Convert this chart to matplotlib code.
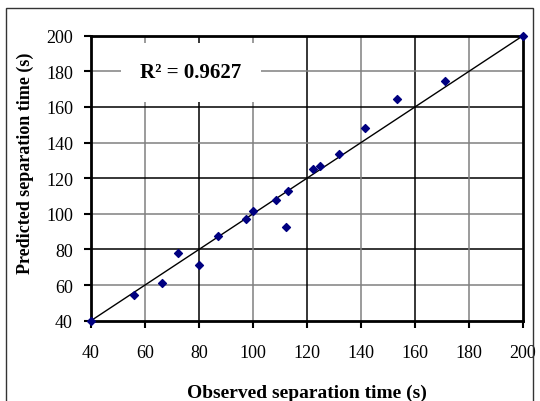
import matplotlib.pyplot as plt
import matplotlib.patches as patches

# observed vs predicted separation time (s)
observed = [40, 56.0, 66.2, 72.3, 80.0, 87.2, 97.3, 100.1, 108.4, 112.2,
            112.8, 122.3, 124.9, 131.9, 141.5, 153.3, 171.2, 200]
predicted = [40, 54.6, 61.2, 78.2, 71.3, 87.8, 97.0, 101.8, 108.0, 92.8,
             113.0, 125.3, 127.1, 133.7, 148.1, 164.6, 174.5, 200]
ticks = [40, 60, 80, 100, 120, 140, 160, 180, 200]
r2_label = 'R² = 0.9627'

plt.rcParams['font.family'] = ['Liberation Serif', 'DejaVu Serif']

fig = plt.figure(figsize=(5.4, 4.02), dpi=100)
ax = fig.add_axes([0.1685, 0.1998, 0.8, 0.7089])

# outer frame of the chart area
frame = patches.Rectangle((0.011, -0.05), 0.976, 1.028, transform=fig.transFigure,
                          fill=False, ec='#333333', lw=1.0)
fig.patches.append(frame)

# grid: every 40 looks black, in-between ones grey
for t in ticks[1:-1]:
    c = 'black' if t % 40 == 0 else '#808080'
    ax.axvline(t, color=c, lw=1.1, zorder=1)
    ax.axhline(t, color=c, lw=1.1, zorder=1)

ax.plot([40, 200], [40, 200], color='black', lw=1.0, zorder=2)
ax.scatter(observed, predicted, marker='D', s=16, color='#000080', zorder=3,
           clip_on=False)

ax.set_xlim(40, 200)
ax.set_ylim(40, 200)
ax.set_xticks(ticks)
ax.set_yticks(ticks)
ax.tick_params(direction='out', length=5, width=1.5, labelsize=13)
ax.tick_params(axis='x', pad=12)
ax.tick_params(axis='y', pad=8)
for s in ax.spines.values():
    s.set_linewidth(2)

ax.set_xlabel('Observed separation time (s)', fontsize=14, fontweight='bold',
              labelpad=16)
ax.set_ylabel('Predicted separation time (s)', fontsize=13, fontweight='bold')
ax.yaxis.set_label_coords(-0.132, 0.557)

ax.text(77, 179.5, r2_label, fontsize=15, fontweight='bold', ha='center',
        va='center', zorder=4,
        bbox=dict(facecolor='white', edgecolor='none', pad=14))

fig.savefig('out.png', dpi=100)
